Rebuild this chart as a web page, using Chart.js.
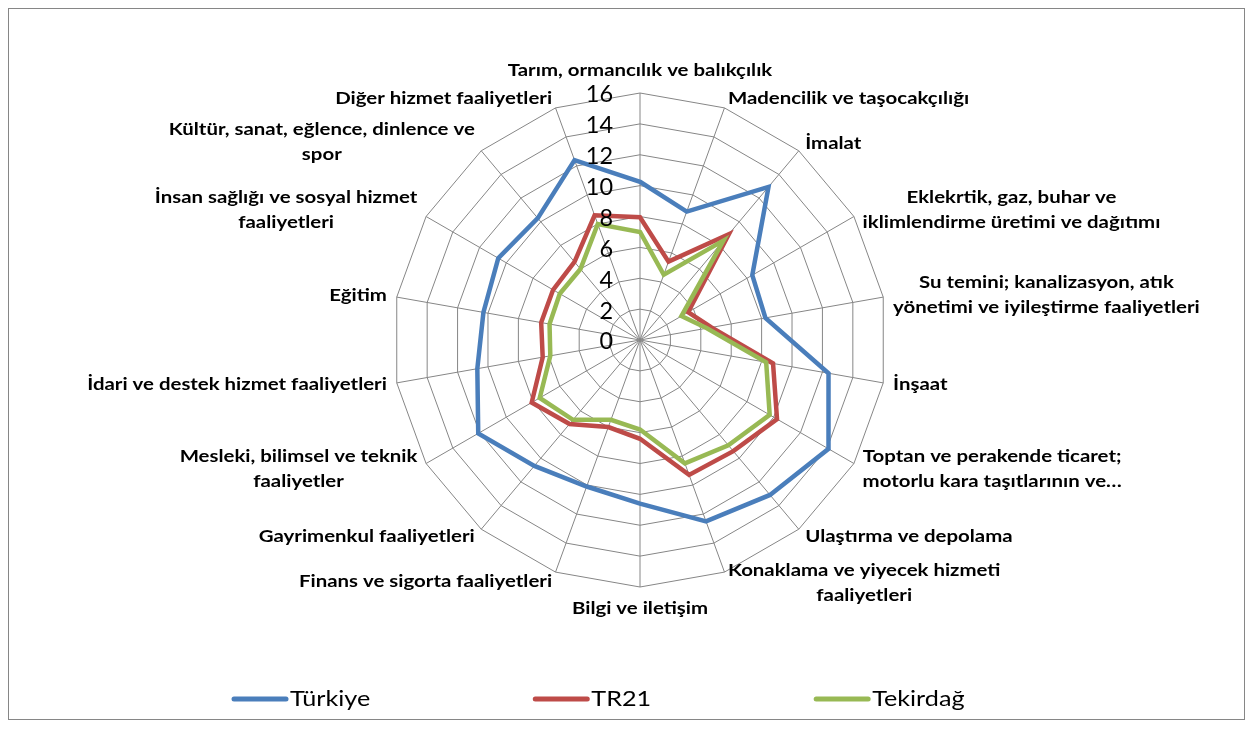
<!DOCTYPE html>
<html>
<head>
<meta charset="utf-8">
<script src="https://cdn.jsdelivr.net/npm/chart.js@4.4.0/dist/chart.umd.min.js"></script>
<style>
    html, body { margin: 0; padding: 0; background: #fff; }
    #wrap { position: relative; width: 1252px; height: 729px; }
    #frame { position: absolute; left: 8px; top: 8px; width: 1235px; height: 710px; border: 1px solid #868686; }
    #radar { position: absolute; left: 0; top: 0; }
</style>
</head>
<body>
<div id="wrap">
    <div id="frame"></div>
    <canvas id="radar" width="1252" height="729"></canvas>
</div>
<script>
    // sectors, clockwise from the top
    var sectors = [
        ['Tarım, ormancılık ve balıkçılık'],
        ['Madencilik ve taşocakçılığı'],
        ['İmalat'],
        ['Eklekrtik, gaz, buhar ve', 'iklimlendirme üretimi ve dağıtımı'],
        ['Su temini; kanalizasyon, atık', 'yönetimi ve iyileştirme faaliyetleri'],
        ['İnşaat'],
        ['Toptan ve perakende ticaret;', 'motorlu kara taşıtlarının ve…'],
        ['Ulaştırma ve depolama'],
        ['Konaklama ve yiyecek hizmeti', 'faaliyetleri'],
        ['Bilgi ve iletişim'],
        ['Finans ve sigorta faaliyetleri'],
        ['Gayrimenkul faaliyetleri'],
        ['Mesleki, bilimsel ve teknik', 'faaliyetler'],
        ['İdari ve destek hizmet faaliyetleri'],
        ['Eğitim'],
        ['İnsan sağlığı ve sosyal hizmet', 'faaliyetleri'],
        ['Kültür, sanat, eğlence, dinlence ve', 'spor'],
        ['Diğer hizmet faaliyetleri']
    ];
    var turkiye  = [10.25, 8.85, 12.95, 8.4, 8.25, 12.4, 14.1, 13.1, 12.5, 10.6, 10.1, 10.65, 12.1, 10.7, 10.3, 10.6, 10.3, 12.4];
    var tr21     = [7.95, 5.4, 8.95, 3.6, 4.7, 8.75, 10.25, 9.4, 9.3, 6.4, 6.0, 7.1, 8.1, 6.4, 6.5, 6.5, 6.6, 8.6];
    var tekirdag = [7.0, 4.5, 8.4, 3.1, 4.4, 8.3, 9.7, 8.9, 8.5, 5.8, 5.5, 6.75, 7.5, 5.9, 5.95, 6.0, 6.0, 8.0];
    var scaleMin = 0, scaleMax = 16, scaleStep = 2;

    var gridColor = '#868686';
    var stretch = 1.2;   // the original text is a bit wider than Lato

    // draws text stretched horizontally, anchored like fillText with the given align
    function wideText(ctx, txt, x, y, align, sx) {
        sx = sx || stretch;
        var w = ctx.measureText(txt).width * sx;
        var left = x;
        if (align === 'center') left = x - w / 2;
        else if (align === 'right') left = x - w;
        ctx.save();
        ctx.translate(left, y);
        ctx.scale(sx, 1);
        ctx.textAlign = 'left';
        ctx.fillText(txt, 0, 0);
        ctx.restore();
        return w;
    }

    // sector names around the web (excel style: block hugs the outer vertex)
    var sectorLabels = {
        id: 'sectorLabels',
        afterDraw: function(chart) {
            var scale = chart.scales.r;
            var ctx = chart.ctx;
            var lineH = 25;
            ctx.save();
            ctx.font = 'bold 17px Lato';
            ctx.fillStyle = '#000';
            ctx.textBaseline = 'middle';
            sectors.forEach(function(lines, i) {
                var ang = scale.getIndexAngle(i);
                var sin = Math.sin(ang), cos = Math.cos(ang);
                var p = scale.getPointPosition(i, scale.drawingArea + 10);
                var blockW = 0;
                lines.forEach(function(l) { blockW = Math.max(blockW, ctx.measureText(l).width * stretch); });
                var cx = p.x;
                if (sin > 0.01) cx = p.x + blockW / 2;
                else if (sin < -0.01) cx = p.x - blockW / 2;
                var cy = p.y;
                if (Math.abs(sin) <= 0.01) cy -= cos * 12;
                else if (lines.length > 1) cy -= cos * 2;
                var top = cy - (lines.length - 1) * lineH / 2;
                lines.forEach(function(l, k) {
                    wideText(ctx, l, cx, top + k * lineH, 'center');
                });
            });
            ctx.restore();
        }
    };

    // value ticks left of the vertical spoke
    var valueTicks = {
        id: 'valueTicks',
        afterDraw: function(chart) {
            var scale = chart.scales.r;
            var ctx = chart.ctx;
            ctx.save();
            ctx.font = '23px Lato';
            ctx.fillStyle = '#000';
            ctx.textBaseline = 'middle';
            scale.ticks.forEach(function(t) {
                var y = scale.yCenter - scale.getDistanceFromCenterForValue(t.value);
                wideText(ctx, t.label, scale.xCenter - 27, y + 2, 'right', 1.02);
            });
            ctx.restore();
        }
    };

    var lineLegend = {
        id: 'lineLegend',
        afterDraw: function(chart) {
            var ctx = chart.ctx;
            var x = 231, y = 699;
            ctx.save();
            ctx.font = '21px Lato';
            ctx.fillStyle = '#000';
            ctx.textBaseline = 'middle';
            chart.data.datasets.forEach(function(ds) {
                ctx.strokeStyle = ds.borderColor;
                ctx.lineWidth = 5;
                ctx.lineCap = 'round';
                ctx.beginPath();
                ctx.moveTo(x + 3, y);
                ctx.lineTo(x + 55, y);
                ctx.stroke();
                var w = wideText(ctx, ds.label, x + 59, y, 'left');
                x += 59 + w + 162;
            });
            ctx.restore();
        }
    };

    new Chart(document.getElementById('radar'), {
        type: 'radar',
        data: {
            labels: sectors,
            datasets: [
                { label: 'Türkiye', data: turkiye, borderColor: '#4A7EBB', order: 3 },
                { label: 'TR21', data: tr21, borderColor: '#BE4B48', order: 2 },
                { label: 'Tekirdağ', data: tekirdag, borderColor: '#98B954', order: 1 }
            ]
        },
        options: {
            responsive: false,
            animation: false,
            layout: { padding: { left: 393, right: 365, top: 93, bottom: 142 } },
            elements: {
                line: { borderWidth: 4.5, tension: 0, fill: false, borderJoinStyle: 'miter' },
                point: { radius: 0, hoverRadius: 0 }
            },
            plugins: {
                legend: { display: false },
                tooltip: { enabled: false }
            },
            scales: {
                r: {
                    min: scaleMin,
                    max: scaleMax,
                    ticks: { stepSize: scaleStep, display: false },
                    grid: { color: gridColor, lineWidth: 1 },
                    angleLines: { color: gridColor, lineWidth: 1 },
                    pointLabels: { display: false }
                }
            }
        },
        plugins: [sectorLabels, valueTicks, lineLegend]
    });
</script>
</body>
</html>
